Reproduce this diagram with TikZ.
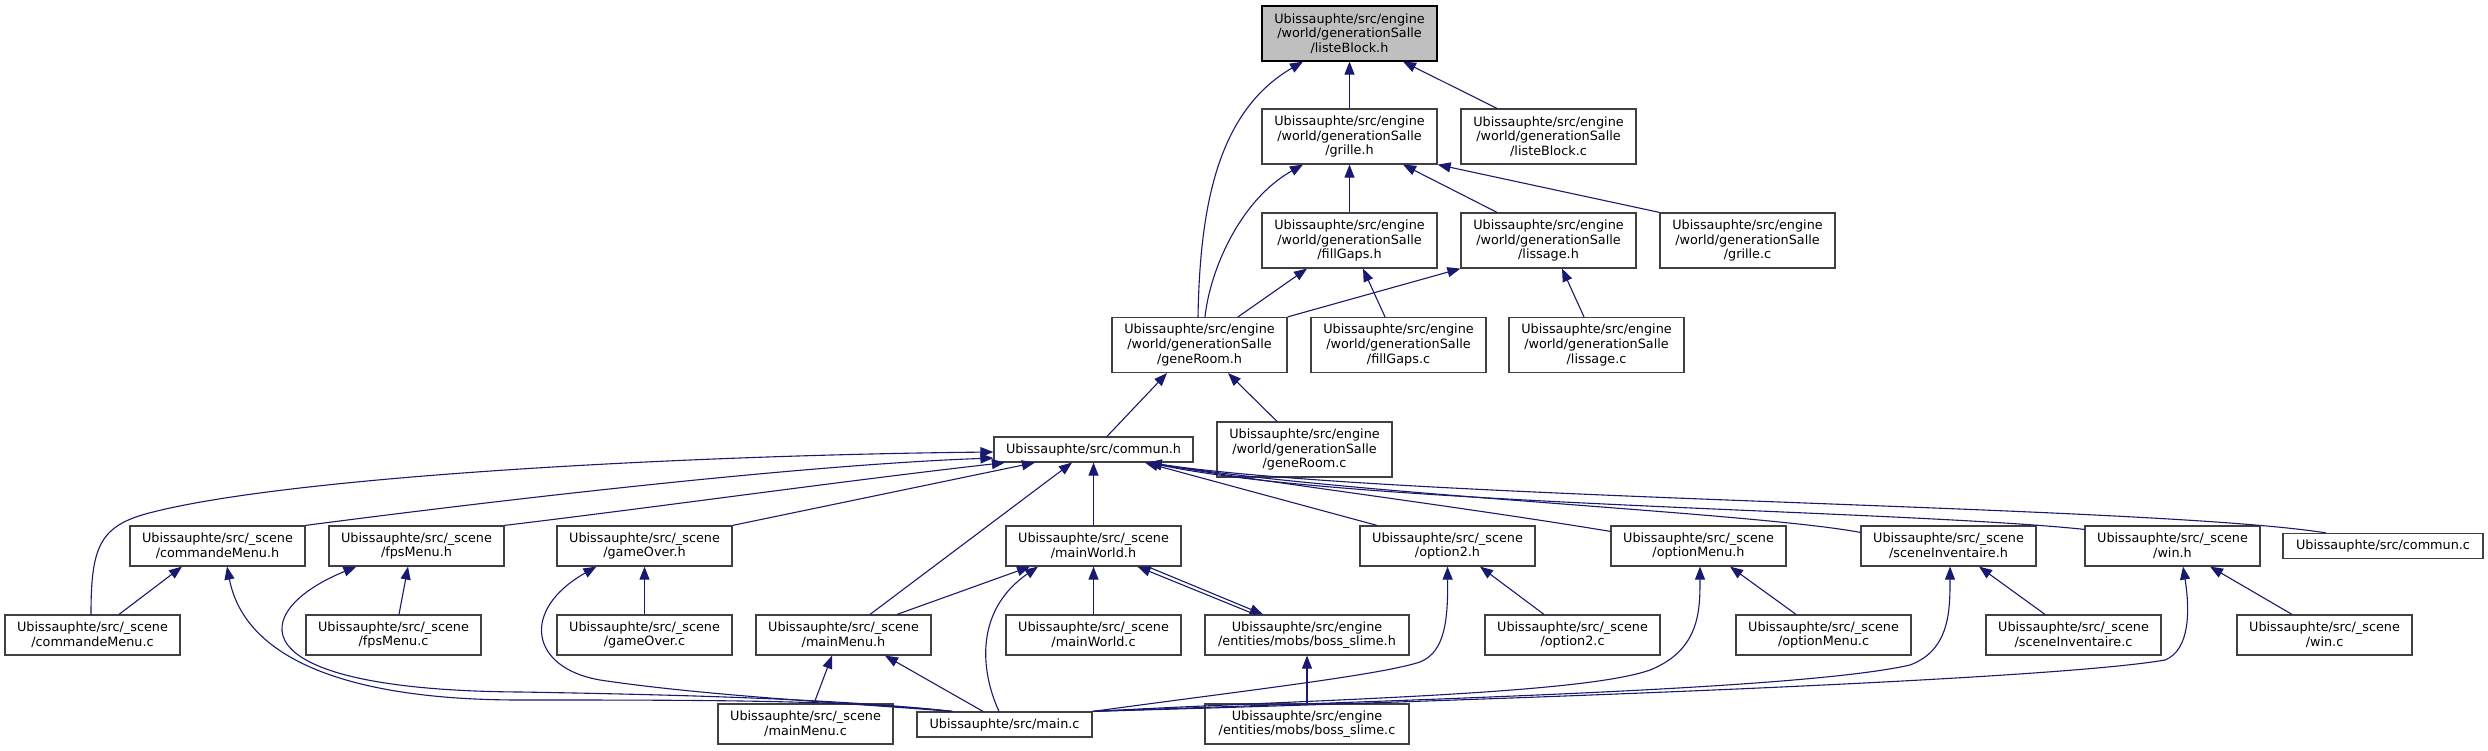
\documentclass[tikz,border=0pt]{standalone}
\usepackage{fontspec}
\setmainfont{DejaVu Sans}
\usetikzlibrary{arrows.meta}
\definecolor{edgeblue}{HTML}{191970}
\definecolor{bordergray}{HTML}{404040}
\definecolor{rootfill}{HTML}{BFBFBF}
\begin{document}
\begin{tikzpicture}[x=1pt,y=-1pt,
  box/.style={draw=bordergray, line width=1.2pt, fill=white, inner sep=0pt, align=center,
    font=\fontsize{12.8}{14.7}\selectfont, minimum width=175pt},
  bthree/.style={box, minimum height=55pt},
  btwo/.style={box, minimum height=40pt},
  bone/.style={box, minimum height=25pt},
  edge/.style={draw=edgeblue, line width=1.1pt, -{Triangle[length=13pt,width=10pt]}, fill=none}
]
\useasboundingbox (0,0) rectangle (2488,751);

% rank 1-4
\node[bthree, fill=rootfill, draw=black] (lbh) at (1349.5,33.5) {Ubissauphte/src/engine\\/world/generationSalle\\/listeBlock.h};
\node[bthree] (grh) at (1349.5,136.5) {Ubissauphte/src/engine\\/world/generationSalle\\/grille.h};
\node[bthree] (lbc) at (1548.5,136.5) {Ubissauphte/src/engine\\/world/generationSalle\\/listeBlock.c};
\node[bthree] (fgh) at (1349.5,240.5) {Ubissauphte/src/engine\\/world/generationSalle\\/fillGaps.h};
\node[bthree] (lsh) at (1548.5,240.5) {Ubissauphte/src/engine\\/world/generationSalle\\/lissage.h};
\node[bthree] (grc) at (1747.5,240.5) {Ubissauphte/src/engine\\/world/generationSalle\\/grille.c};
\node[bthree] (gnh) at (1199.5,345) {Ubissauphte/src/engine\\/world/generationSalle\\/geneRoom.h};
\node[bthree] (fgc) at (1398.5,345) {Ubissauphte/src/engine\\/world/generationSalle\\/fillGaps.c};
\node[bthree] (lsc) at (1596.5,345) {Ubissauphte/src/engine\\/world/generationSalle\\/lissage.c};
% rank 5
\node[bone, minimum width=199pt] (cmh) at (1093.5,449.5) {Ubissauphte/src/commun.h};
\node[bthree] (gnc) at (1304.5,449.5) {Ubissauphte/src/engine\\/world/generationSalle\\/geneRoom.c};
% rank 6
\node[btwo] (cmdh) at (217.5,546) {Ubissauphte/src/\_scene\\/commandeMenu.h};
\node[btwo] (fpsh) at (416.5,546) {Ubissauphte/src/\_scene\\/fpsMenu.h};
\node[btwo] (goh) at (644.5,546) {Ubissauphte/src/\_scene\\/gameOver.h};
\node[btwo] (mwh) at (1093.5,546) {Ubissauphte/src/\_scene\\/mainWorld.h};
\node[btwo] (o2h) at (1447.5,546) {Ubissauphte/src/\_scene\\/option2.h};
\node[btwo] (omh) at (1698.5,546) {Ubissauphte/src/\_scene\\/optionMenu.h};
\node[btwo] (sih) at (1948.5,546) {Ubissauphte/src/\_scene\\/sceneInventaire.h};
\node[btwo] (winh) at (2172.5,546) {Ubissauphte/src/\_scene\\/win.h};
\node[bone, minimum width=200pt] (cmc) at (2383,546) {Ubissauphte/src/commun.c};
% rank 7
\node[btwo] (cmdc) at (92.5,635) {Ubissauphte/src/\_scene\\/commandeMenu.c};
\node[btwo] (fpsc) at (393.5,635) {Ubissauphte/src/\_scene\\/fpsMenu.c};
\node[btwo] (goc) at (644.5,635) {Ubissauphte/src/\_scene\\/gameOver.c};
\node[btwo] (mmh) at (843.5,635) {Ubissauphte/src/\_scene\\/mainMenu.h};
\node[btwo] (mwc) at (1093.5,635) {Ubissauphte/src/\_scene\\/mainWorld.c};
\node[btwo, minimum width=204pt] (bsh) at (1307,635) {Ubissauphte/src/engine\\/entities/mobs/boss\_slime.h};
\node[btwo] (o2c) at (1572.5,635) {Ubissauphte/src/\_scene\\/option2.c};
\node[btwo] (omc) at (1823.5,635) {Ubissauphte/src/\_scene\\/optionMenu.c};
\node[btwo] (sic) at (2073.5,635) {Ubissauphte/src/\_scene\\/sceneInventaire.c};
\node[btwo] (winc) at (2324.5,635) {Ubissauphte/src/\_scene\\/win.c};
% rank 8
\node[btwo] (mmc) at (805.5,724) {Ubissauphte/src/\_scene\\/mainMenu.c};
\node[bone] (mainc) at (1004.5,724.5) {Ubissauphte/src/main.c};
\node[btwo, minimum width=204pt] (bsc) at (1307,724) {Ubissauphte/src/engine\\/entities/mobs/boss\_slime.c};

% upper part
\draw[edge] (grh.north) -- (lbh.south);
\draw[edge] ([xshift=-51.5pt]lbc.north) -- ([xshift=53.5pt]lbh.south);
\draw[edge] ([xshift=-1.5pt]gnh.north) .. controls (1200,200) and (1220,110) .. ([xshift=-46.5pt]lbh.south);
\draw[edge] ([xshift=5.5pt]gnh.north) .. controls (1210,270) and (1240,200) .. ([xshift=-46.5pt]grh.south);
\draw[edge] (fgh.north) -- (grh.south);
\draw[edge] ([xshift=-51.5pt]lsh.north) -- ([xshift=53.5pt]grh.south);
\draw[edge] (grc.north west) -- (grh.south east);
\draw[edge] ([xshift=38.5pt]gnh.north) -- ([xshift=-42.5pt]fgh.south);
\draw[edge] ([xshift=-13.5pt]fgc.north) -- ([xshift=13.5pt]fgh.south);
\draw[edge] (gnh.north east) -- (lsh.south west);
\draw[edge] ([xshift=-12.5pt]lsc.north) -- ([xshift=13.5pt]lsh.south);
\draw[edge] ([xshift=13.5pt]cmh.north) -- ([xshift=-32.5pt]gnh.south);
\draw[edge] ([xshift=-27.5pt]gnc.north) -- ([xshift=28.5pt]gnh.south);

% into commun.h
\draw[edge] ([xshift=-1.5pt]cmdc.north) .. controls (91,545) and (100,525) .. (153,512) .. controls (300,475) and (700,455) .. ([yshift=-2.5pt]cmh.west);
\draw[edge] (cmdh.north east) .. controls (500,500) and (800,465) .. ([yshift=-8.5pt]cmh.west);
\draw[edge] (fpsh.north east) .. controls (650,508) and (850,480) .. ([xshift=11.5pt]cmh.south west);
\draw[edge] (goh.north east) -- ([xshift=41.5pt]cmh.south west);
\draw[edge] ([xshift=26.5pt]mmh.north) -- ([xshift=-21.5pt]cmh.south);
\draw[edge] (mwh.north) -- (cmh.south);
\draw[edge] ([xshift=-70.5pt]o2h.north) -- ([xshift=51.5pt]cmh.south);
\draw[edge] ([yshift=-6pt]omh.north west) .. controls (1450,505) and (1250,480) .. ([xshift=55pt]cmh.south);
\draw[edge] ([yshift=-7pt]sih.north west) .. controls (1750,512) and (1350,495) .. ([xshift=55pt]cmh.south);
\draw[edge] ([yshift=-4pt]winh.north west) .. controls (1900,510) and (1350,505) .. ([xshift=55pt]cmh.south);
\draw[edge] ([xshift=-57pt]cmc.north) .. controls (2150,505) and (1400,500) .. ([xshift=55pt]cmh.south);

% mainWorld / mainMenu / boss_slime
\draw[edge] ([xshift=-21.5pt]mainc.north) -- ([xshift=41.5pt]mmh.south);
\draw[edge] ([xshift=8.5pt]mmc.north) -- ([xshift=-11.5pt]mmh.south);
\draw[edge] ([xshift=-5.5pt]mainc.north) .. controls (980,670) and (975,610) .. ([xshift=-55.5pt]mwh.south);
\draw[edge] ([xshift=53.5pt]mmh.north) -- ([xshift=-63.5pt]mwh.south);
\draw[edge] (mwc.north) -- (mwh.south);
\draw[edge] ([xshift=-52pt]bsh.north) -- ([xshift=44pt]mwh.south);
\draw[edge] ([xshift=54pt]mwh.south) -- ([xshift=-44pt]bsh.north);
\draw[edge] (bsc.north) -- (bsh.south);

% main.c to the left
\draw[edge] ([xshift=36pt]mainc.north west) .. controls (850,700) and (700,700) .. (520,700) .. controls (350,700) and (245,660) .. ([xshift=9.5pt]cmdh.south);
\draw[edge] ([xshift=36pt]mainc.north west) .. controls (850,700) and (700,695) .. (520,692) .. controls (230,690) and (250,610) .. ([xshift=28pt]fpsh.south west);
\draw[edge] ([xshift=36pt]mainc.north west) .. controls (830,702) and (700,695) .. (600,680) .. controls (530,668) and (520,610) .. ([xshift=40pt]goh.south west);

% main.c to the right
\draw[edge] (mainc.north east) .. controls (1250,690) and (1380,675) .. (1420,662) .. controls (1445,652) and (1448,620) .. (o2h.south);
\draw[edge] (mainc.north east) .. controls (1300,700) and (1580,695) .. (1650,670) .. controls (1700,650) and (1700,610) .. ([xshift=1.5pt]omh.south);
\draw[edge] (mainc.north east) .. controls (1400,700) and (1800,690) .. (1910,665) .. controls (1950,650) and (1950,610) .. ([xshift=1.5pt]sih.south);
\draw[edge] (mainc.north east) .. controls (1500,700) and (2050,680) .. (2165,660) .. controls (2190,650) and (2190,610) .. ([xshift=10.5pt]winh.south);

% .c to .h
\draw[edge] ([xshift=26.5pt]cmdc.north) -- ([xshift=-35.5pt]cmdh.south);
\draw[edge] ([xshift=5.5pt]fpsc.north) -- ([xshift=-8.5pt]fpsh.south);
\draw[edge] (goc.north) -- (goh.south);
\draw[edge] ([xshift=-28.5pt]o2c.north) -- ([xshift=32.5pt]o2h.south);
\draw[edge] ([xshift=-27.5pt]omc.north) -- ([xshift=31.5pt]omh.south);
\draw[edge] ([xshift=-28.5pt]sic.north) -- ([xshift=30.5pt]sih.south);
\draw[edge] ([xshift=-32.5pt]winc.north) -- ([xshift=37.5pt]winh.south);
\end{tikzpicture}
\end{document}
